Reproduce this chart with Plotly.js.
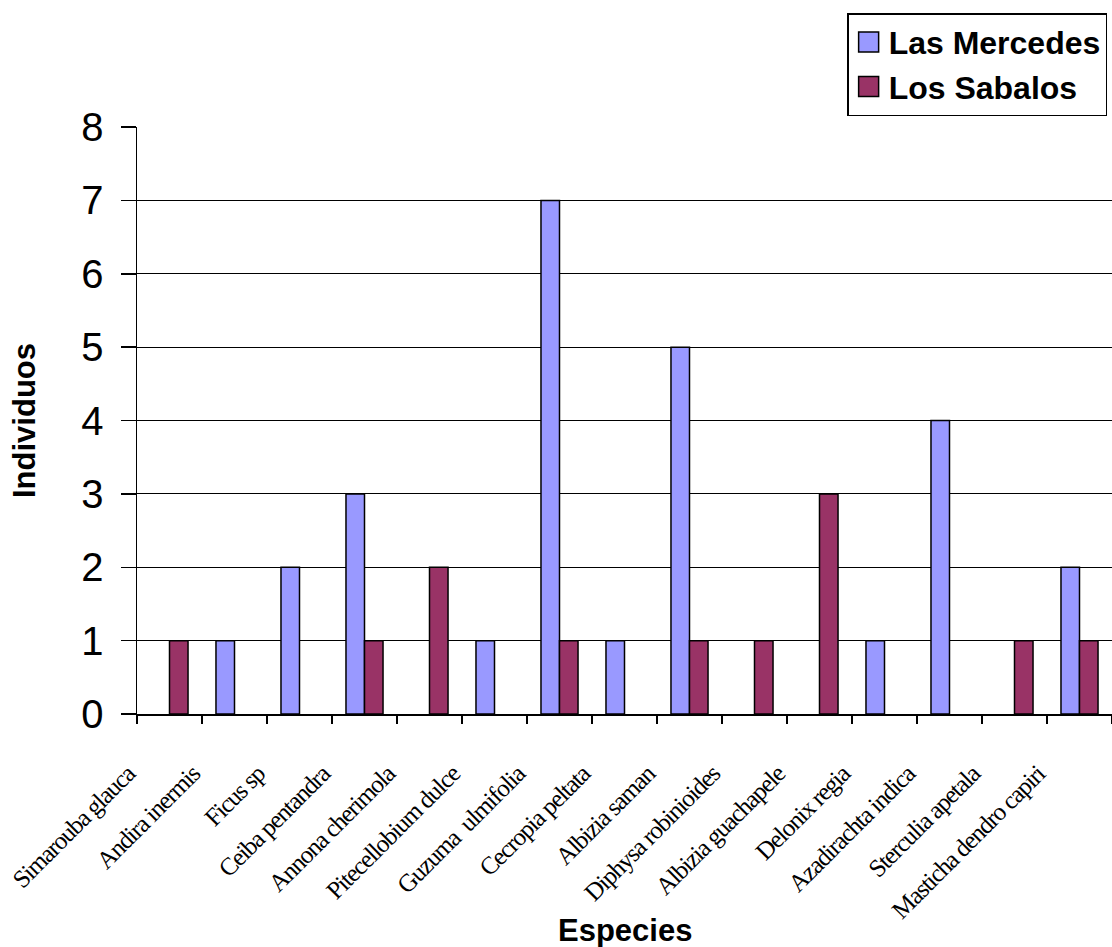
<!DOCTYPE html>
<html>
<head>
<meta charset="utf-8">
<script src="https://cdn.plot.ly/plotly-3.0.1.min.js"></script>
<style>
html,body{margin:0;padding:0;background:#fff;}
.xtick text{letter-spacing:-1.2px;}
</style>
</head>
<body>
<div id="chart" style="width:1112px;height:947px;"></div>
<script>
const especies = [
  "Simarouba glauca", "Andira inermis", "Ficus sp", "Ceiba pentandra",
  "Annona cherimola", "Pitecellobium dulce", "Guzuma\u00a0 ulmifolia",
  "Cecropia peltata", "Albizia saman", "Diphysa robinioides",
  "Albizia guachapele", "Delonix regia", "Azadirachta indica",
  "Sterculia apetala", "Masticha dendro capiri"
];
const lasMercedes = [0, 1, 2, 3, 0, 1, 7, 1, 5, 0, 0, 1, 4, 0, 2];
const losSabalos  = [1, 0, 0, 1, 2, 0, 1, 0, 1, 1, 3, 0, 0, 1, 1];
const yTicks = [0, 1, 2, 3, 4, 5, 6, 7, 8];

const hideZero = v => (v === 0 ? null : v);

const traces = [
  {type: "bar", name: "Las Mercedes", legendgroup: "lm", x: especies, y: lasMercedes.map(hideZero),
   marker: {color: "#9999FF", line: {color: "#000", width: 1.5}}},
  {type: "bar", name: "Los Sabalos", legendgroup: "ls", x: especies, y: losSabalos.map(hideZero),
   marker: {color: "#993366", line: {color: "#000", width: 1.5}}}
];

const layout = {
  width: 1112, height: 947,
  margin: {l: 137, r: 0, t: 127, b: 233, pad: 0},
  paper_bgcolor: "#fff", plot_bgcolor: "#fff",
  barmode: "group", bargap: 0.43, bargroupgap: 0,
  font: {family: "Arial, Liberation Sans, sans-serif", color: "#000"},
  xaxis: {
    type: "category", showline: true, linecolor: "#000", linewidth: 1.5,
    ticks: "outside", tickson: "boundaries", ticklen: 8, tickcolor: "#000", tickwidth: 1.5,
    tickangle: -45, tickfont: {family: "Liberation Serif, Times New Roman, serif", size: 25, color: "#000"},
    ticklabelshift: -42, ticklabelstandoff: 34,
    showgrid: false, zeroline: false, automargin: false, fixedrange: true
  },
  yaxis: {
    range: [0, 8], tickvals: yTicks, ticktext: yTicks.map(String),
    showline: true, linecolor: "#000", linewidth: 1.5,
    ticks: "outside", ticklen: 15, tickcolor: "#000", tickwidth: 1.5,
    tickfont: {family: "Arial, Liberation Sans, sans-serif", size: 40, color: "#000"},
    ticklabelstandoff: 9,
    showgrid: true, gridcolor: "#000", gridwidth: 1.2, zeroline: false,
    automargin: false, fixedrange: true,
    title: {text: "<b>Individuos</b>", font: {size: 31, color: "#000"}, standoff: 36}
  },
  legend: {
    x: 0.995, y: 1.194, xanchor: "right", yanchor: "top",
    traceorder: "grouped", tracegroupgap: 0,
    bgcolor: "#fff", bordercolor: "#000", borderwidth: 1.5,
    font: {family: "Arial, Liberation Sans, sans-serif", size: 32, color: "#000", weight: "bold"}
  },
  annotations: [{
    text: "<b>Especies</b>", xref: "paper", yref: "paper", x: 0.5, y: -0.368,
    xanchor: "center", yanchor: "middle", showarrow: false,
    font: {family: "Arial, Liberation Sans, sans-serif", size: 31, color: "#000"}
  }],
  showlegend: true
};

Plotly.newPlot("chart", traces, layout, {displayModeBar: false, staticPlot: true}).then(gd => {
  // enlarge legend swatches to match the reference's larger squares
  gd.querySelectorAll(".legendpoints path").forEach(p => {
    p.setAttribute("d", "M10,10H-10V-10H10Z");
  });
});
</script>
</body>
</html>
